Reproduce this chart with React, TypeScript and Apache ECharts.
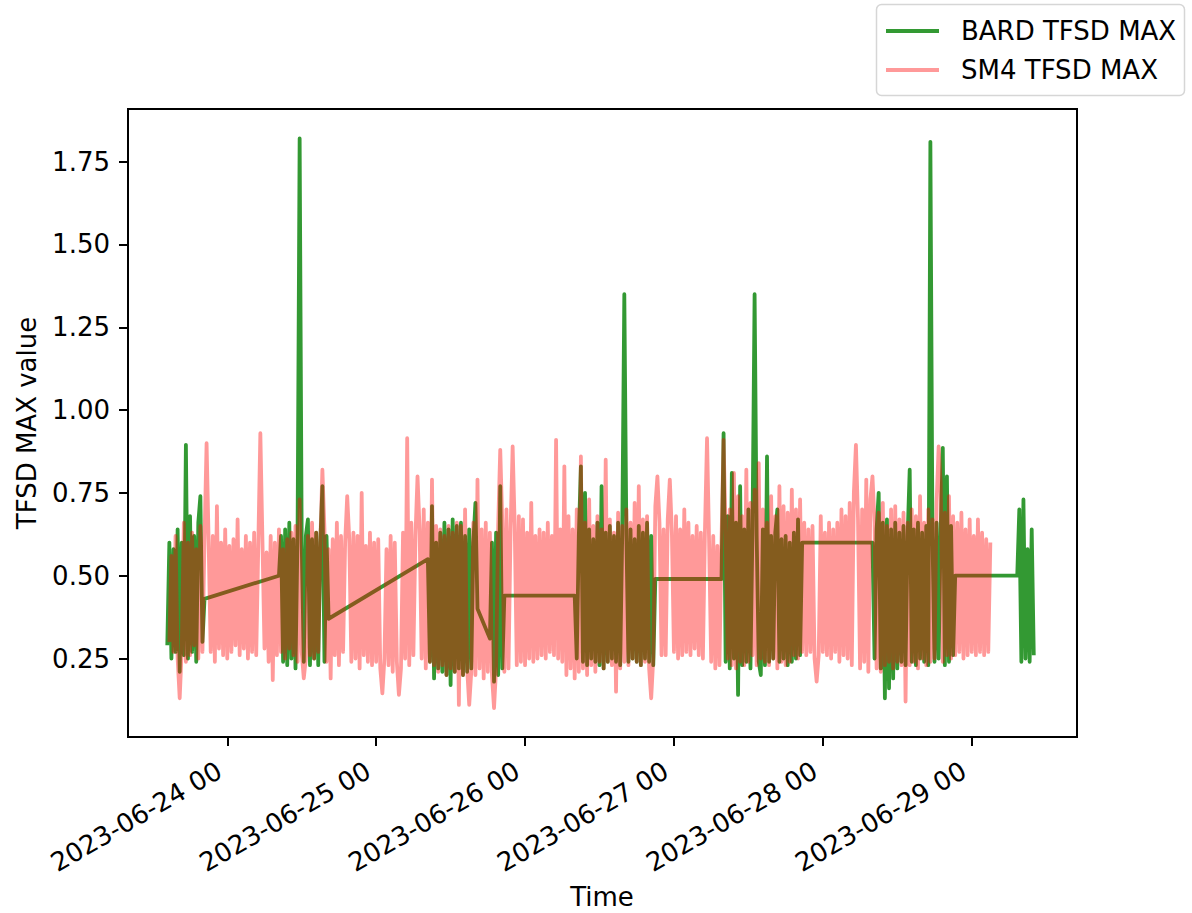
import React, { useEffect, useRef } from "react";
import * as echarts from "echarts";

// ---------- data ----------
const STEP_MINUTES = 20;

const xTickLabels = [
  "2023-06-24 00",
  "2023-06-25 00",
  "2023-06-26 00",
  "2023-06-27 00",
  "2023-06-28 00",
  "2023-06-29 00",
];
const yTickValues = [0.25, 0.5, 0.75, 1.0, 1.25, 1.5, 1.75];

const xRangeStart = "2023-06-23 08:00";
const xRangeEnd = "2023-06-29 16:58";
const yRange = [0.013, 1.909];

// SM4 TFSD MAX (one continuous record, 20-minute spacing)
const sm4Start = "2023-06-23 14:40";
const sm4Values = [
  0.30, 0.56, 0.27, 0.62, 0.25, 0.13, 0.28, 0.66, 0.24, 0.60,
  0.26, 0.63, 0.29, 0.58, 0.25, 0.65, 0.27, 0.61, 0.90, 0.60,
  0.27, 0.62, 0.24, 0.71, 0.28, 0.60, 0.26, 0.64, 0.25, 0.59,
  0.27, 0.61, 0.29, 0.67, 0.26, 0.58, 0.28, 0.62, 0.25, 0.60,
  0.27, 0.63, 0.26, 0.59, 0.93, 0.61, 0.28, 0.57, 0.24, 0.62,
  0.185, 0.60, 0.26, 0.64, 0.27, 0.58, 0.25, 0.61, 0.28, 0.63,
  0.26, 0.65, 0.24, 0.73, 0.27, 0.19, 0.25, 0.62, 0.26, 0.66,
  0.25, 0.63, 0.27, 0.60, 0.82, 0.64, 0.24, 0.58, 0.19, 0.61,
  0.26, 0.66, 0.23, 0.62, 0.27, 0.60, 0.74, 0.61, 0.24, 0.63,
  0.25, 0.62, 0.22, 0.75, 0.26, 0.59, 0.24, 0.63, 0.23, 0.60,
  0.24, 0.61, 0.22, 0.145, 0.25, 0.58, 0.23, 0.62, 0.21, 0.60,
  0.24, 0.14, 0.22, 0.63, 0.25, 0.915, 0.23, 0.66, 0.26, 0.62,
  0.80, 0.64, 0.25, 0.70, 0.22, 0.66, 0.24, 0.79, 0.23, 0.65,
  0.21, 0.64, 0.23, 0.62, 0.20, 0.65, 0.22, 0.63, 0.21, 0.66,
  0.11, 0.65, 0.20, 0.70, 0.22, 0.11, 0.21, 0.66, 0.20, 0.79,
  0.22, 0.64, 0.19, 0.66, 0.21, 0.63, 0.20, 0.10, 0.22, 0.65,
  0.88, 0.66, 0.21, 0.70, 0.22, 0.64, 0.89, 0.65, 0.23, 0.68,
  0.24, 0.67, 0.23, 0.63, 0.25, 0.72, 0.24, 0.62, 0.25, 0.64,
  0.26, 0.63, 0.25, 0.66, 0.27, 0.62, 0.26, 0.91, 0.25, 0.64,
  0.24, 0.83, 0.20, 0.68, 0.22, 0.64, 0.19, 0.70, 0.21, 0.86,
  0.22, 0.66, 0.20, 0.73, 0.23, 0.65, 0.21, 0.68, 0.24, 0.64,
  0.22, 0.85, 0.24, 0.67, 0.23, 0.63, 0.15, 0.69, 0.22, 0.65,
  0.24, 0.70, 0.23, 0.66, 0.25, 0.72, 0.24, 0.77, 0.23, 0.67,
  0.24, 0.68, 0.22, 0.13, 0.25, 0.71, 0.80, 0.66, 0.26, 0.64,
  0.26, 0.67, 0.79, 0.63, 0.27, 0.68, 0.25, 0.64, 0.26, 0.70,
  0.27, 0.66, 0.26, 0.62, 0.28, 0.65, 0.26, 0.63, 0.25, 0.64,
  0.915, 0.60, 0.24, 0.62, 0.22, 0.59, 0.23, 0.61, 0.91, 0.63,
  0.25, 0.70, 0.23, 0.81, 0.22, 0.74, 0.24, 0.68, 0.23, 0.82,
  0.24, 0.72, 0.26, 0.76, 0.23, 0.84, 0.25, 0.70, 0.24, 0.66,
  0.23, 0.74, 0.25, 0.68, 0.22, 0.77, 0.24, 0.71, 0.23, 0.69,
  0.24, 0.76, 0.26, 0.70, 0.25, 0.73, 0.27, 0.66, 0.26, 0.64,
  0.27, 0.65, 0.25, 0.18, 0.26, 0.68, 0.27, 0.63, 0.26, 0.66,
  0.25, 0.64, 0.27, 0.66, 0.24, 0.70, 0.26, 0.68, 0.25, 0.72,
  0.23, 0.75, 0.895, 0.67, 0.22, 0.70, 0.24, 0.79, 0.21, 0.73,
  0.80, 0.66, 0.22, 0.69, 0.21, 0.72, 0.23, 0.65, 0.24, 0.70,
  0.22, 0.71, 0.24, 0.67, 0.23, 0.69, 0.12, 0.66, 0.23, 0.70,
  0.24, 0.68, 0.22, 0.74, 0.25, 0.66, 0.23, 0.70, 0.24, 0.67,
  0.25, 0.72, 0.89, 0.78, 0.24, 0.69, 0.26, 0.74, 0.25, 0.68,
  0.26, 0.66, 0.27, 0.69, 0.25, 0.64, 0.26, 0.67, 0.27, 0.62,
  0.26, 0.67, 0.27, 0.63, 0.26, 0.61, 0.27, 0.60,
];

// BARD TFSD MAX (recording sessions, 20-minute spacing; gaps are joined by the line)
const bardSegmentStarts = [
  "2023-06-23 14:20",
  "2023-06-24 08:20",
  "2023-06-25 08:20",
  "2023-06-25 18:20",
  "2023-06-26 08:00",
  "2023-06-27 07:40",
  "2023-06-28 08:00",
  "2023-06-29 07:20",
];
const bardSession1 = [0.29, 0.60, 0.25, 0.58, 0.27, 0.64, 0.21, 0.60, 0.26, 0.895, 0.25, 0.68, 0.27, 0.62, 0.24, 0.66, 0.74, 0.30, 0.43];
const bardSession2 = [0.50, 0.62, 0.24, 0.64, 0.23, 0.66, 0.25, 0.61, 0.22, 0.63, 1.82, 0.60, 0.24, 0.62, 0.67, 0.23, 0.61, 0.25, 0.63, 0.23, 0.60, 0.77, 0.24, 0.62, 0.37];
const bardSession3 = [0.55, 0.24, 0.71, 0.19, 0.60, 0.22, 0.63, 0.21, 0.66, 0.20, 0.64, 0.17, 0.67, 0.21, 0.65, 0.22, 0.66, 0.20, 0.62, 0.21, 0.64, 0.22, 0.60, 0.72, 0.40];
const bardSession4 = [0.31, 0.60, 0.18, 0.63, 0.20, 0.77, 0.22, 0.44];
const bardSession5 = [
  0.44, 0.25, 0.62, 0.83, 0.24, 0.75, 0.23, 0.64, 0.25, 0.61,
  0.24, 0.66, 0.23, 0.77, 0.22, 0.63, 0.24, 0.65, 0.25, 0.62,
  0.24, 0.66, 0.23, 0.63, 1.35, 0.62, 0.24, 0.64, 0.25, 0.61,
  0.24, 0.65, 0.23, 0.63, 0.25, 0.66, 0.24, 0.62, 0.23, 0.49,
];
const bardSession6 = [
  0.49, 0.93, 0.24, 0.68, 0.22, 0.81, 0.25, 0.66, 0.14, 0.77,
  0.23, 0.64, 0.24, 0.70, 0.22, 0.65, 1.35, 0.62, 0.24, 0.20,
  0.64, 0.23, 0.86, 0.24, 0.62, 0.25, 0.63, 0.70, 0.24, 0.61,
  0.25, 0.62, 0.23, 0.60, 0.24, 0.63, 0.25, 0.67, 0.26, 0.60,
];
const bardSession7 = [
  0.60, 0.25, 0.64, 0.75, 0.22, 0.66, 0.13, 0.67, 0.16, 0.64,
  0.19, 0.66, 0.22, 0.63, 0.24, 0.65, 0.23, 0.62, 0.82, 0.24,
  0.64, 0.23, 0.66, 0.25, 0.63, 0.24, 0.65, 0.23, 1.81, 0.62,
  0.24, 0.66, 0.25, 0.64, 0.886, 0.23, 0.80, 0.24, 0.65, 0.26,
  0.50,
];
const bardSession8 = [0.50, 0.70, 0.24, 0.73, 0.25, 0.58, 0.24, 0.64, 0.26];
const bardSessions = [bardSession1, bardSession2, bardSession3, bardSession4, bardSession5, bardSession6, bardSession7, bardSession8];

const seriesNames = ["BARD TFSD MAX", "SM4 TFSD MAX"];
const seriesColors = ["rgba(0,128,0,0.8)", "rgba(255,0,0,0.4)"];
const xAxisTitle = "Time";
const yAxisTitle = "TFSD MAX value";

// ---------- helpers ----------
function parseLocal(s: string): number {
  const [d, t] = s.split(" ");
  const [Y, M, D] = d.split("-").map(Number);
  const parts = (t || "00").split(":").map(Number);
  return new Date(Y, M - 1, D, parts[0] || 0, parts[1] || 0).getTime();
}
const pad2 = (n: number) => (n < 10 ? "0" + n : "" + n);
function fmtTick(v: number): string {
  const d = new Date(v);
  return `${d.getFullYear()}-${pad2(d.getMonth() + 1)}-${pad2(d.getDate())} ${pad2(d.getHours())}`;
}
const STEP_MS = STEP_MINUTES * 60 * 1000;
function toPoints(start: string, values: number[]): [number, number][] {
  const t0 = parseLocal(start);
  return values.map((v, i) => [t0 + i * STEP_MS, v]);
}

const FONT = "DejaVu Sans";
const FS = 26;

export default function App() {
  const ref = useRef<HTMLDivElement>(null);

  useEffect(() => {
    if (!ref.current) return;
    const chart = echarts.init(ref.current, null, { renderer: "svg" });

    const sm4Data = toPoints(sm4Start, sm4Values);
    const bardData: [number, number][] = [];
    bardSessions.forEach((vals, k) => {
      toPoints(bardSegmentStarts[k], vals).forEach((p) => bardData.push(p));
    });
    const xTickValues = xTickLabels.map((s) => parseLocal(s));

    const option: any = {
      animation: false,
      backgroundColor: "#ffffff",
      grid: {
        left: 128,
        top: 109,
        width: 949,
        height: 628,
        show: true,
        borderColor: "#000000",
        borderWidth: 2,
        backgroundColor: "transparent",
      },
      xAxis: {
        type: "value",
        min: parseLocal(xRangeStart),
        max: parseLocal(xRangeEnd),
        axisLine: { show: true, lineStyle: { color: "#000", width: 2 } },
        axisTick: {
          show: true,
          length: 9,
          lineStyle: { color: "#000", width: 2 },
          customValues: xTickValues,
        },
        axisLabel: {
          show: true,
          customValues: xTickValues,
          rotate: 30,
          margin: 27,
          padding: [0, 9, 0, 0],
          fontSize: FS,
          fontFamily: FONT,
          color: "#000",
          hideOverlap: false,
          formatter: (v: number) => fmtTick(v),
        },
        splitLine: { show: false },
      },
      yAxis: {
        type: "value",
        min: yRange[0],
        max: yRange[1],
        axisLine: { show: true, lineStyle: { color: "#000", width: 2 } },
        axisTick: {
          show: true,
          length: 9,
          lineStyle: { color: "#000", width: 2 },
          customValues: yTickValues,
        },
        axisLabel: {
          show: true,
          customValues: yTickValues,
          margin: 18,
          fontSize: FS,
          fontFamily: FONT,
          color: "#000",
          formatter: (v: number) => v.toFixed(2),
        },
        splitLine: { show: false },
      },
      series: [
        {
          type: "line",
          name: seriesNames[0],
          data: bardData,
          showSymbol: false,
          symbol: "none",
          silent: true,
          color: seriesColors[0],
          lineStyle: { color: seriesColors[0], width: 3.8, join: "round", cap: "butt" },
          emphasis: { disabled: true },
        },
        {
          type: "line",
          name: seriesNames[1],
          data: sm4Data,
          showSymbol: false,
          symbol: "none",
          silent: true,
          color: seriesColors[1],
          lineStyle: { color: seriesColors[1], width: 3.8, join: "round", cap: "butt" },
          emphasis: { disabled: true },
        },
      ],
      graphic: [
        {
          type: "rect",
          shape: { x: 876.5, y: 4.5, width: 308, height: 91, r: 5 },
          style: { fill: "rgba(255,255,255,0.8)", stroke: "#d6d6d6", lineWidth: 1.5 },
          z: 100,
        },
        {
          type: "line",
          shape: { x1: 886, y1: 31, x2: 939, y2: 31 },
          style: { stroke: seriesColors[0], lineWidth: 3.8 },
          z: 101,
        },
        {
          type: "line",
          shape: { x1: 886, y1: 70, x2: 939, y2: 70 },
          style: { stroke: seriesColors[1], lineWidth: 3.8 },
          z: 101,
        },
        {
          type: "text",
          x: 961,
          y: 31,
          style: { text: seriesNames[0], fontSize: FS, fontFamily: FONT, fill: "#000", align: "left", verticalAlign: "middle" },
          z: 101,
        },
        {
          type: "text",
          x: 961,
          y: 70,
          style: { text: seriesNames[1], fontSize: FS, fontFamily: FONT, fill: "#000", align: "left", verticalAlign: "middle" },
          z: 101,
        },
        {
          type: "text",
          x: 602,
          y: 897,
          style: { text: xAxisTitle, fontSize: FS, fontFamily: FONT, fill: "#000", align: "center", verticalAlign: "middle" },
        },
        {
          type: "text",
          x: 27,
          y: 423,
          rotation: Math.PI / 2,
          style: { text: yAxisTitle, fontSize: FS, fontFamily: FONT, fill: "#000", align: "center", verticalAlign: "middle" },
        },
      ],
    };

    chart.setOption(option);
    return () => chart.dispose();
  }, []);

  return (
    <div
      ref={ref}
      style={{ position: "absolute", left: 0, top: 0, width: 1192, height: 913, background: "#fff" }}
    />
  );
}
